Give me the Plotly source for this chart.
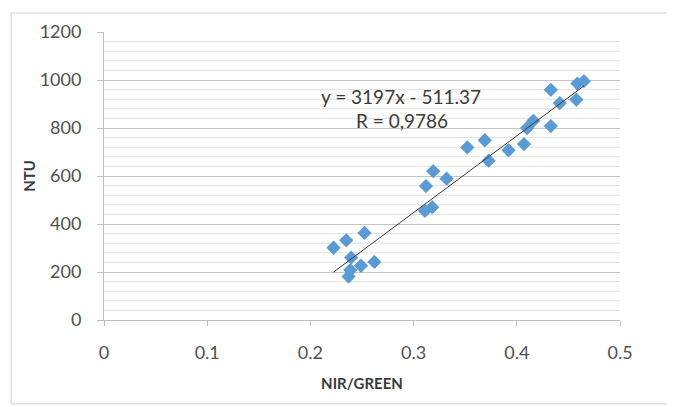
import plotly.graph_objects as go

# Data
nir_green = [0.2224, 0.2347, 0.2524, 0.2395, 0.2386, 0.2370, 0.2490, 0.2620,
             0.3120, 0.3190, 0.3320, 0.3110, 0.3180, 0.3520, 0.3690, 0.3727,
             0.3920, 0.4070, 0.4100, 0.4160, 0.4330, 0.4330, 0.4417, 0.4577,
             0.4587, 0.4650]
ntu = [301, 332, 363, 260, 208, 181, 226, 242,
       558, 620, 589, 455, 470, 719, 749, 664,
       707, 733, 800, 830, 808, 959, 904, 918,
       985, 995]

slope = 3197
intercept = -511.37
equation_text = "y = 3197x - 511.37"
r_text = "R = 0,9786"

x_ticks = [0, 0.1, 0.2, 0.3, 0.4, 0.5]
x_tick_labels = ["0", "0.1", "0.2", "0.3", "0.4", "0.5"]
y_ticks = [0, 200, 400, 600, 800, 1000, 1200]

FONT = "Lato, Calibri, Carlito, sans-serif"

fig = go.Figure()

# Minor horizontal gridlines every 40
for v in range(40, 1200, 40):
    if v % 200 != 0:
        fig.add_shape(type="line", xref="paper", yref="y", x0=0, x1=1, y0=v, y1=v,
                      line=dict(color="#e0e0e0", width=1), layer="below")

fig.add_trace(go.Scatter(
    x=nir_green, y=ntu, mode="markers",
    marker=dict(symbol="diamond", size=11, color="#5B9BD5", line=dict(width=0)),
    showlegend=False))

xmin, xmax = min(nir_green), max(nir_green)
fig.add_trace(go.Scatter(
    x=[xmin, xmax], y=[slope * xmin + intercept, slope * xmax + intercept],
    mode="lines", line=dict(color="#3a3a3a", width=1), showlegend=False))

fig.add_annotation(x=0.576, y=0.777, xref="paper", yref="paper",
                   text=equation_text, showarrow=False, xanchor="center", yanchor="middle",
                   font=dict(family=FONT, size=19, color="#3a3a3a"))
fig.add_annotation(x=0.578, y=0.692, xref="paper", yref="paper",
                   text=r_text, showarrow=False, xanchor="center", yanchor="middle",
                   font=dict(family=FONT, size=19, color="#3a3a3a"))

# Outer chart border
fig.add_shape(type="rect", xref="paper", yref="paper",
              x0=-0.180, x1=1.093, y0=-0.291, y1=1.066,
              line=dict(color="#d0d0d0", width=1), fillcolor="rgba(0,0,0,0)")

fig.update_xaxes(
    range=[0, 0.5], tickvals=x_ticks, ticktext=x_tick_labels,
    showgrid=False, zeroline=False,
    showline=True, linecolor="#bfbfbf", linewidth=1,
    ticks="outside", ticklen=5, tickcolor="#bfbfbf",
    tickfont=dict(family=FONT, size=18, color="#505050"),
    ticklabelstandoff=11,
    title=dict(text="<b>NIR/GREEN</b>", font=dict(family=FONT, size=15, color="#3a3a3a"),
               standoff=16))
fig.update_yaxes(
    range=[0, 1200], tickvals=y_ticks,
    showgrid=True, gridcolor="#c4c4c4", gridwidth=1, zeroline=False,
    showline=True, linecolor="#bfbfbf", linewidth=1,
    ticks="outside", ticklen=6, tickcolor="#bfbfbf",
    tickfont=dict(family=FONT, size=18, color="#505050"),
    ticklabelstandoff=12,
    title=dict(text="<b>NTU</b>", font=dict(family=FONT, size=15, color="#3a3a3a"),
               standoff=0))

fig.update_layout(
    width=667, height=399,
    margin=dict(l=96, r=55, t=20, b=87),
    paper_bgcolor="white", plot_bgcolor="white",
    font=dict(family=FONT),
)

fig.write_html("out.html")
